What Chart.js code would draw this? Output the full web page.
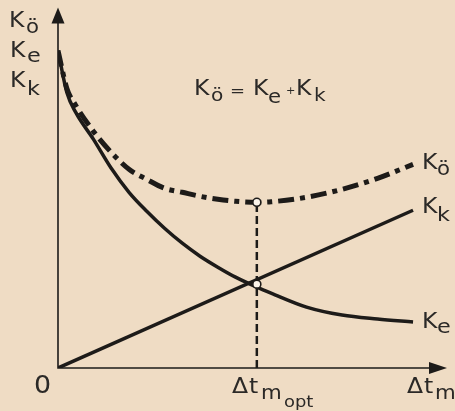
<!DOCTYPE html>
<html>
<head>
<meta charset="utf-8">
<script src="https://cdn.jsdelivr.net/npm/chart.js@4.4.0/dist/chart.umd.min.js"></script>
<style>
  html, body { margin: 0; padding: 0; background: #efdcc4; }
  #wrap { width: 455px; height: 411px; }
</style>
</head>
<body>
<div id="wrap"><canvas id="costChart" width="455" height="411"></canvas></div>
<script>
// time axis samples and the cost curves read along it
var tValues  = [0, 0.25, 0.5, 1, 1.5, 2, 2.5, 3, 3.5, 4, 4.5, 5, 5.6, 6, 7, 8, 9, 10];
var keValues = [31.8, 27.6, 25.6, 22.9, 20.0, 17.6, 15.7, 14.0, 12.5, 11.2, 10.1, 9.1, 8.1, 7.5, 6.1, 5.3, 4.9, 4.6];
var koValues = [31.8, 28.0, 26.3, 23.7, 21.6, 19.9, 18.9, 18.0, 17.6, 17.2, 16.9, 16.7, 16.6, 16.65, 17.1, 17.9, 19.0, 20.4];
var kkT      = [0, 10];
var kkValues = [0, 15.8];
var optT       = 5.6;
var markValues = [16.6, 8.4];   // minimum of Kö, crossing of Ke and Kk

var INK = '#1d1b19';
var TEXT = '#2b2927';
var PAPER = '#efdcc4';

function pts(xs, ys) {
  return xs.map(function (x, i) { return { x: x, y: ys[i] }; });
}

// letters are a bit wider than DejaVu, so stretch them sideways
function drawParts(ctx, parts) {
  parts.forEach(function (p) {
    ctx.save();
    ctx.font = p[3] + 'px "DejaVu Sans"';
    ctx.translate(p[1], p[2]);
    ctx.scale(1.12, 1);
    ctx.fillText(p[0], 0, 0);
    ctx.restore();
  });
}

var paperAndAxes = {
  id: 'paperAndAxes',
  beforeDraw: function (chart) {
    var ctx = chart.ctx;
    ctx.save();
    ctx.fillStyle = PAPER;
    ctx.fillRect(0, 0, chart.width, chart.height);
    ctx.restore();
  },
  beforeDatasetsDraw: function (chart) {
    var ctx = chart.ctx;
    var x0 = chart.scales.x.getPixelForValue(0);
    var y0 = chart.scales.y.getPixelForValue(0);
    var area = chart.chartArea;
    ctx.save();
    ctx.strokeStyle = INK;
    ctx.fillStyle = INK;
    ctx.lineWidth = 1.6;
    ctx.beginPath();
    ctx.moveTo(x0, area.top + 10);
    ctx.lineTo(x0, y0);
    ctx.lineTo(area.right - 10, y0);
    ctx.stroke();
    // arrow heads
    ctx.beginPath();
    ctx.moveTo(x0, area.top + 2);
    ctx.lineTo(x0 - 6.5, area.top + 18);
    ctx.lineTo(x0 + 6.5, area.top + 18);
    ctx.closePath();
    ctx.fill();
    ctx.beginPath();
    ctx.moveTo(area.right + 2, y0);
    ctx.lineTo(area.right - 16, y0 - 6);
    ctx.lineTo(area.right - 16, y0 + 6);
    ctx.closePath();
    ctx.fill();
    ctx.restore();
  },
  afterDraw: function (chart) {
    var ctx = chart.ctx;
    ctx.save();
    ctx.fillStyle = TEXT;
    ctx.textBaseline = 'alphabetic';
    // y axis names
    drawParts(ctx, [['K', 9, 27, 21], ['ö', 26, 33, 19]]);
    drawParts(ctx, [['K', 10, 57, 21], ['e', 27, 62, 20]]);
    drawParts(ctx, [['K', 10, 87, 21], ['k', 27, 95, 20]]);
    // relation
    drawParts(ctx, [['K', 194, 95, 21], ['ö', 211, 101, 18], ['=', 230, 96, 16],
                    ['K', 253, 95, 21], ['e', 268, 103, 19], ['+', 286, 94, 10],
                    ['K', 296, 95, 21], ['k', 314, 101, 18]]);
    // curve names
    drawParts(ctx, [['K', 422, 169, 21], ['ö', 437, 175, 19]]);
    drawParts(ctx, [['K', 422, 213, 21], ['k', 437, 221, 20]]);
    drawParts(ctx, [['K', 422, 328, 21], ['e', 437, 333, 20]]);
    // x axis labels
    drawParts(ctx, [['0', 34, 393, 24]]);
    drawParts(ctx, [['Δ', 232, 393, 21], ['t', 249, 393, 21], ['m', 261, 399, 19], ['opt', 284, 407, 16]]);
    drawParts(ctx, [['Δ', 407, 393, 21], ['t', 424, 393, 21], ['m', 435, 399, 19]]);
    ctx.restore();
  }
};

new Chart(document.getElementById('costChart'), {
  type: 'line',
  data: {
    datasets: [
      {
        label: 'marks',
        type: 'scatter',
        data: pts([optT, optT], markValues),
        pointRadius: 4,
        pointBorderWidth: 1.6,
        pointBackgroundColor: '#fbf4ea',
        pointBorderColor: INK,
        order: 0
      },
      {
        label: 'Kö',
        data: pts(tValues, koValues),
        borderColor: INK,
        borderWidth: 5,
        borderDash: [16, 6, 5, 6],
        cubicInterpolationMode: 'monotone',
        pointRadius: 0,
        order: 1
      },
      {
        label: 'Ke',
        data: pts(tValues, keValues),
        borderColor: INK,
        borderWidth: 3.5,
        cubicInterpolationMode: 'monotone',
        pointRadius: 0,
        order: 2
      },
      {
        label: 'Kk',
        data: pts(kkT, kkValues),
        borderColor: INK,
        borderWidth: 3.5,
        pointRadius: 0,
        order: 3
      },
      {
        label: 'opt',
        data: pts([optT, optT], [0, markValues[0]]),
        borderColor: INK,
        borderWidth: 2.5,
        borderDash: [8, 4],
        pointRadius: 0,
        order: 4
      }
    ]
  },
  options: {
    responsive: false,
    animation: false,
    events: [],
    layout: { padding: { left: 58, right: 10, top: 5, bottom: 43 } },
    scales: {
      x: { type: 'linear', min: 0, max: 10.9, display: false },
      y: { type: 'linear', min: 0, max: 36.3, display: false }
    },
    plugins: {
      legend: { display: false },
      tooltip: { enabled: false }
    }
  },
  plugins: [paperAndAxes]
});
</script>
</body>
</html>
